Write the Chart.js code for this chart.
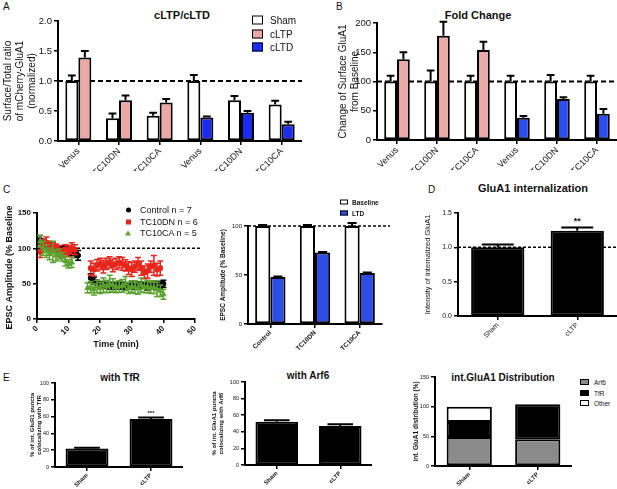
<!DOCTYPE html>
<html lang="en">
<head>
<meta charset="UTF-8">
<title>GluA1 surface and internalization</title>
<script src="https://cdn.jsdelivr.net/npm/chart.js"></script>
<style>
  body { margin: 0; background: #fff; font-family: "Liberation Sans", Arial, sans-serif; }
  #fig { position: relative; width: 617px; height: 489px; overflow: hidden; background: #fff; }
  #fig canvas { position: absolute; }
  .letter { position: absolute; font-size: 10px; color: #111; }
  .title { position: absolute; font-weight: bold; color: #111; white-space: nowrap; transform: translate(-50%, -50%); }
  .key { position: absolute; white-space: nowrap; color: #111; transform: translateY(-50%); }
  .sw { position: absolute; box-sizing: border-box; transform: translateY(-50%); }
</style>
</head>
<body>
<div id="fig">
  <div class="letter" style="left:3px;top:1px">A</div>
  <div class="letter" style="left:336px;top:1px">B</div>
  <div class="letter" style="left:3px;top:184px">C</div>
  <div class="letter" style="left:428px;top:184px">D</div>
  <div class="letter" style="left:3px;top:372px">E</div>
  <div class="title" style="left:182px;top:15px;font-size:11px">cLTP/cLTD</div>
  <div class="title" style="left:478px;top:15px;font-size:11px">Fold Change</div>
  <div class="title" style="left:533px;top:188px;font-size:11px">GluA1 internalization</div>
  <div class="title" style="left:120px;top:377px;font-size:10px">with TfR</div>
  <div class="title" style="left:308px;top:375px;font-size:10px">with Arf6</div>
  <div class="title" style="left:503px;top:377px;font-size:10px">int.GluA1 Distribution</div>
</div>
<script>
// A: surface/total ratio (normalized)
const groupsA = ['Venus', 'TC10DN', 'TC10CA', 'Venus', 'TC10DN', 'TC10CA'];
const shamA = [1.0, 0.38, 0.42, 1.0, 0.68, 0.61];
const shamAErr = [0.09, 0.08, 0.05, 0.10, 0.07, 0.06];
const ltpA = [1.39, 0.68, 0.64, null, null, null];
const ltpAErr = [0.11, 0.08, 0.06, null, null, null];
const ltdA = [null, null, null, 0.39, 0.47, 0.28];
const ltdAErr = [null, null, null, 0.02, 0.03, 0.04];

// B: fold change from baseline
const shamB = [100, 100, 100, 100, 100, 100];
const shamBErr = [10, 19, 10, 10, 11, 10];
const ltpB = [138, 178, 154, null, null, null];
const ltpBErr = [12, 24, 14, null, null, null];
const ltdB = [null, null, null, 38, 70, 45];
const ltdBErr = [null, null, null, 3, 3, 8];

// C: EPSC time course
const timeC = [1, 2, 3, 4, 5, 6, 7, 8, 9, 10, 11, 12, 13,
  16, 17, 18, 19, 20, 21, 22, 23, 24, 25, 26, 27, 28, 29, 30, 31, 32, 33, 34, 35, 36, 37, 38, 39, 40];
const controlC = [112, 108, 104, 102, 104, 100, 99, 98, 100, 96, 95, 93, 90,
  null, 58, 54, 50, 48, 47, 48, 46, 47, 48, 46, 47, 45, 47, 48, 46, 47, 48, 47, 46, 48, 47, 49, 48, 50];
const controlCErr = [6, 5, 5, 4, 5, 4, 4, 5, 4, 5, 5, 6, 7,
  null, 6, 5, 5, 5, 4, 4, 4, 5, 4, 4, 5, 4, 4, 5, 4, 5, 4, 4, 5, 4, 5, 4, 5, 5, 7];
const dnC = [95, 106, 108, 104, 102, 100, 96, 94, 98, 96, 100, 98, null,
  null, 72, 70, 76, 78, 74, 78, 80, 76, 78, 80, 78, 76, 72, 70, 74, 78, 72, 66, 68, 74, 76, 70, 72, null];
const dnCErr = [8, 6, 8, 6, 7, 6, 8, 6, 7, 8, 8, 7, null,
  null, 10, 9, 8, 8, 9, 8, 8, 9, 8, 8, 9, 8, 9, 10, 8, 9, 10, 9, 10, 8, 14, 9, 10, null];
const caC = [110, 100, 96, 92, 95, 90, 92, 88, 82, 78, 80, null, null,
  44, 45, 42, 46, 44, 48, 46, 50, 48, 45, 46, 47, 50, 44, 46, 45, 43, 48, 45, 46, 44, 45, 42, 40, 35];
const caCErr = [8, 10, 9, 8, 15, 8, 7, 6, 7, 6, 7, null, null,
  7, 8, 8, 9, 8, 10, 9, 12, 9, 8, 8, 9, 10, 8, 8, 9, 8, 10, 8, 9, 8, 9, 10, 8, 7];

// C right: baseline vs LTD
const groupsC = ['Control', 'TC10DN', 'TC10CA'];
const baseC = [100, 100, 100];
const baseCErr = [1, 1, 3];
const ltdC = [48, 73, 52];
const ltdCErr = [0.5, 0.5, 0.5];

// D: internalized GluA1
const groupsD = ['Sham', 'cLTP'];
const internD = [1.0, 1.24];
const internDErr = [0.04, 0.05];

// E: colocalization
const groupsE = ['Sham', 'cLTP'];
const tfrE = [22, 57];
const tfrEErr = [1, 2];
const arf6E = [52, 47];
const arf6EErr = [2, 2];
const distArf6 = [49, 45];
const distTfR = [25, 59];
const distOther = [26, 0];

const FONT = '"Liberation Sans", Arial, sans-serif';
const PINK = '#eba9a6';
const BLUE = '#1a2cf2';
const fig = document.getElementById('fig');

const errorBars = {
  id: 'errorBars',
  afterDatasetDraw(chart, args) {
    const ds = chart.data.datasets[args.index];
    if (!ds.errors && !ds.stars) return;
    const ctx = chart.ctx, y = chart.scales.y;
    ctx.save();
    args.meta.data.forEach((el, i) => {
      const raw = ds.data[i];
      const v = (raw !== null && typeof raw === 'object') ? raw.y : raw;
      if (v == null) return;
      const e = ds.errors ? ds.errors[i] : null;
      const top = y.getPixelForValue(v + (e || 0));
      if (e != null) {
        const bot = ds.errBoth ? y.getPixelForValue(v - e) : el.y;
        const cap = ds.capWidth || el.width * 0.3;
        ctx.strokeStyle = ds.errColor || '#000';
        ctx.lineWidth = ds.errWidth || 2;
        ctx.beginPath();
        ctx.moveTo(el.x, top); ctx.lineTo(el.x, bot);
        ctx.moveTo(el.x - cap, top); ctx.lineTo(el.x + cap, top);
        if (ds.errBoth) { ctx.moveTo(el.x - cap, bot); ctx.lineTo(el.x + cap, bot); }
        ctx.stroke();
      }
      if (ds.stars && ds.stars[i]) {
        ctx.fillStyle = '#111';
        ctx.font = 'bold ' + ds.starSize + 'px ' + FONT;
        ctx.textAlign = 'center';
        ctx.textBaseline = 'bottom';
        ctx.fillText(ds.stars[i], el.x, top - 1);
      }
    });
    ctx.restore();
  }
};

const refLine = {
  id: 'refLine',
  beforeDatasetsDraw(chart, args, opts) {
    if (opts.value == null) return;
    const {ctx, chartArea} = chart;
    const yy = chart.scales.y.getPixelForValue(opts.value);
    ctx.save();
    ctx.setLineDash(opts.dash || [4, 3]);
    ctx.lineWidth = opts.width || 1.5;
    ctx.strokeStyle = '#000';
    ctx.beginPath();
    ctx.moveTo(chartArea.left, yy);
    ctx.lineTo(chartArea.right + (opts.extend || 0), yy);
    ctx.stroke();
    ctx.restore();
  }
};
Chart.register(errorBars, refLine);

function makeCanvas(area, yW, xH, padTop, padRight) {
  const c = document.createElement('canvas');
  const left = area[0] - yW, top = area[1] - padTop;
  c.width = area[2] + padRight - left;
  c.height = area[3] + xH - top;
  c.style.left = left + 'px';
  c.style.top = top + 'px';
  fig.appendChild(c);
  return c;
}

function yScale(o) {
  return {
    min: o.min, max: o.max,
    stacked: !!o.stacked,
    ticks: {
      stepSize: o.step, color: '#111', padding: 2,
      font: {family: FONT, size: o.size, weight: o.bold ? 'bold' : 'normal'},
      callback: v => o.dec ? v.toFixed(o.dec) : v
    },
    grid: {drawOnChartArea: false, tickLength: 4, color: '#000', lineWidth: 1.5},
    border: {color: '#000', width: 2},
    title: {
      display: true, text: o.title, color: '#111',
      font: {family: FONT, size: o.tSize, weight: o.tBold ? 'bold' : 'normal', lineHeight: o.lh || 1.2},
      padding: {top: o.tPad, bottom: 0}
    },
    afterFit(s) { s.width = o.width; }
  };
}

function xScale(o) {
  return {
    type: o.type || 'category',
    min: o.min, max: o.max,
    stacked: !!o.stacked,
    ticks: {
      stepSize: o.step, color: '#111', padding: 1, autoSkip: false,
      maxRotation: 45, minRotation: 45,
      font: {family: FONT, size: o.size, weight: o.bold ? 'bold' : 'normal'}
    },
    grid: {drawOnChartArea: false, offset: false, tickLength: 4, color: '#000', lineWidth: 1.5},
    border: {color: '#000', width: 2},
    title: o.title ? {
      display: true, text: o.title, color: '#111',
      font: {family: FONT, size: o.tSize, weight: 'bold'}, padding: {top: 0, bottom: 1}
    } : {display: false},
    afterFit(s) { s.height = o.height; }
  };
}

function options(padTop, padRight, x, y, ref) {
  return {
    responsive: false, animation: false, devicePixelRatio: 1,
    layout: {padding: {top: padTop, right: padRight, left: 0, bottom: 0}},
    plugins: {legend: {display: false}, tooltip: {enabled: false}, refLine: ref || {}},
    scales: {x: x, y: y}
  };
}

function bars(label, data, errors, color, extra) {
  return Object.assign({
    label: label, data: data, errors: errors,
    backgroundColor: color, borderColor: '#000', borderWidth: 2, borderSkipped: false,
    skipNull: true, categoryPercentage: 0.64, barPercentage: 1.0
  }, extra || {});
}

function key(items, x, y, rowH, size, bw, bh, textX, bold) {
  items.forEach((it, i) => {
    const cy = y + i * rowH;
    const sw = document.createElement('div');
    sw.className = 'sw';
    sw.style.cssText = 'left:' + x + 'px;top:' + cy + 'px;width:' + bw + 'px;height:' + bh + 'px;' + it.style;
    fig.appendChild(sw);
    const t = document.createElement('div');
    t.className = 'key';
    t.style.cssText = 'left:' + textX + 'px;top:' + cy + 'px;font-size:' + size + 'px;' + (bold ? 'font-weight:bold;' : '');
    t.textContent = it.label;
    fig.appendChild(t);
  });
}

// ---- A ----
new Chart(makeCanvas([58, 21, 302, 141], 58, 30, 8, 0), {
  type: 'bar',
  data: {
    labels: groupsA,
    datasets: [
      bars('Sham', shamA, shamAErr, '#fff'),
      bars('cLTP', ltpA, ltpAErr, PINK),
      bars('cLTD', ltdA, ltdAErr, BLUE)
    ]
  },
  options: options(8, 0,
    xScale({size: 9, height: 30}),
    yScale({min: 0, max: 2, step: 0.5, dec: 1, size: 9.5, width: 58,
      title: ['Surface/Total ratio', 'of mCherry-GluA1', '(normalized)'], tSize: 10, lh: 1.2, tPad: 2}),
    {value: 1, dash: [5, 3], width: 2})
});
key([
  {label: 'Sham', style: 'background:#fff;border:1.5px solid #000'},
  {label: 'cLTP', style: 'background:' + PINK + ';border:1.5px solid #000'},
  {label: 'cLTD', style: 'background:' + BLUE + ';border:1.5px solid #000'}
], 252, 20, 13.5, 10, 11, 9, 270, false);

// ---- B ----
new Chart(makeCanvas([377, 23, 617, 140], 45, 30, 8, 0), {
  type: 'bar',
  data: {
    labels: groupsA,
    datasets: [
      bars('Sham', shamB, shamBErr, '#fff'),
      bars('cLTP', ltpB, ltpBErr, PINK),
      bars('cLTD', ltdB, ltdBErr, '#2e4ff0')
    ]
  },
  options: options(8, 0,
    xScale({size: 9, height: 30}),
    yScale({min: 0, max: 200, step: 50, size: 9.5, width: 45,
      title: ['Change of Surface GluA1', 'from Baseline'], tSize: 10, lh: 1.2, tPad: 5}),
    {value: 100, dash: [5, 3], width: 2})
});

// ---- C left: time course ----
function pts(vals) { return timeC.map((t, i) => ({x: t, y: vals[i]})); }
function series(label, vals, errs, color, style, r, order) {
  return {
    label: label, data: pts(vals), errors: errs, errBoth: true, capWidth: 3,
    errColor: color, errWidth: 1.5, order: order,
    pointStyle: style, pointRadius: r, backgroundColor: color, borderColor: color, borderWidth: 1,
    showLine: false
  };
}
new Chart(makeCanvas([37, 213, 195, 319], 37, 32, 8, 12), {
  type: 'scatter',
  data: {
    datasets: [
      series('Control n = 7', controlC, controlCErr, '#000', 'circle', 2.5, 3),
      series('TC10DN n = 6', dnC, dnCErr, '#e8261c', 'rect', 3, 2),
      series('TC10CA n = 5', caC, caCErr, '#5aa22e', 'triangle', 3, 1)
    ]
  },
  options: options(8, 12,
    xScale({type: 'linear', min: 0, max: 50, step: 10, size: 8, bold: true, height: 32,
      title: 'Time (min)', tSize: 9}),
    yScale({min: 0, max: 150, step: 50, size: 8, bold: true, width: 37,
      title: 'EPSC Amplitude (% Baseline)', tSize: 9, tBold: true, tPad: 4}),
    {value: 100, dash: [3, 2], width: 1.5, extend: 5})
});
key([
  {label: 'Control n = 7', style: 'background:#000;border-radius:50%;margin-left:-2.5px'},
  {label: 'TC10DN n = 6', style: 'background:#e8261c;margin-left:-2.5px'},
  {label: 'TC10CA n = 5', style: 'width:0;height:0;border-left:3px solid transparent;border-right:3px solid transparent;border-bottom:5px solid #5aa22e;margin-left:-3px'}
], 128, 210, 11.5, 9, 5, 5, 140, false);

// ---- C right: baseline vs LTD ----
new Chart(makeCanvas([248, 226, 382, 324], 35, 32, 8, 10), {
  type: 'bar',
  data: {
    labels: groupsC,
    datasets: [
      bars('Baseline', baseC, baseCErr, '#fff', {categoryPercentage: 0.68}),
      bars('LTD', ltdC, ltdCErr, '#2c4de6', {categoryPercentage: 0.68})
    ]
  },
  options: options(8, 10,
    xScale({size: 6.5, bold: true, height: 32}),
    yScale({min: 0, max: 100, step: 50, size: 6, width: 35,
      title: 'EPSC Amplitude (% Baseline)', tSize: 6.5, tBold: true, tPad: 6}),
    {value: 100, dash: [3, 2], width: 1.5, extend: 8})
});
key([
  {label: 'Baseline', style: 'background:#fff;border:1.5px solid #000'},
  {label: 'LTD', style: 'background:#2c4de6;border:1px solid #000'}
], 340, 202, 11, 6.5, 8, 5, 352, true);

// ---- D ----
new Chart(makeCanvas([458, 213, 617, 316], 38, 24, 8, 0), {
  type: 'bar',
  data: {
    labels: groupsD,
    datasets: [
      bars('Internalized', internD, internDErr, '#000',
        {categoryPercentage: 0.67, stars: [null, '**'], starSize: 9})
    ]
  },
  options: options(8, 0,
    xScale({size: 7, height: 24}),
    yScale({min: 0, max: 1.5, step: 0.5, dec: 1, size: 7, width: 38,
      title: 'Intensity of internalized GluA1', tSize: 7.5, tPad: 3.5}),
    {value: 1, dash: [3, 2], width: 1.5})
});

// ---- E: with TfR ----
new Chart(makeCanvas([55, 383, 183, 467], 30, 20, 6, 0), {
  type: 'bar',
  data: {
    labels: groupsE,
    datasets: [
      bars('TfR', tfrE, tfrEErr, '#000',
        {categoryPercentage: 0.67, stars: [null, '***'], starSize: 6})
    ]
  },
  options: options(6, 0,
    xScale({size: 6, bold: true, height: 20}),
    yScale({min: 0, max: 100, step: 20, size: 5.5, width: 30,
      title: ['% of int. GluR1 puncta', 'colocalizing with TfR'], tSize: 6, tBold: true, lh: 1.1, tPad: 4.2}))
});

// ---- E: with Arf6 ----
new Chart(makeCanvas([245, 382, 372, 465], 36, 20, 6, 0), {
  type: 'bar',
  data: {
    labels: groupsE,
    datasets: [
      bars('Arf6', arf6E, arf6EErr, '#000', {categoryPercentage: 0.67})
    ]
  },
  options: options(6, 0,
    xScale({size: 6, bold: true, height: 20}),
    yScale({min: 0, max: 100, step: 20, size: 5.5, width: 36,
      title: ['% of int. GluA1 puncta', 'colocalizing with Arf6'], tSize: 6, tBold: true, lh: 1.1, tPad: 2.2}))
});

// ---- E: distribution (stacked) ----
new Chart(makeCanvas([435, 377, 572, 466], 25, 20, 6, 0), {
  type: 'bar',
  data: {
    labels: groupsE,
    datasets: [
      bars('Arf6', distArf6, null, '#8a8a8a', {categoryPercentage: 0.66}),
      bars('TfR', distTfR, null, '#000', {categoryPercentage: 0.66}),
      bars('Other', distOther, null, '#fff', {categoryPercentage: 0.66})
    ]
  },
  options: options(6, 0,
    xScale({size: 6, bold: true, height: 20, stacked: true}),
    yScale({min: 0, max: 150, step: 50, size: 5.5, width: 25, stacked: true,
      title: 'int. GluA1 distribution (%)', tSize: 6.5, tBold: true, tPad: 2}))
});
key([
  {label: 'Arf6', style: 'background:#8a8a8a;border:1.5px solid #000'},
  {label: 'TfR', style: 'background:#000;border:1.5px solid #000'},
  {label: 'Other', style: 'background:#fff;border:1.5px solid #000'}
], 580, 382, 10.5, 6.5, 9, 6, 594, false);
</script>
</body>
</html>
